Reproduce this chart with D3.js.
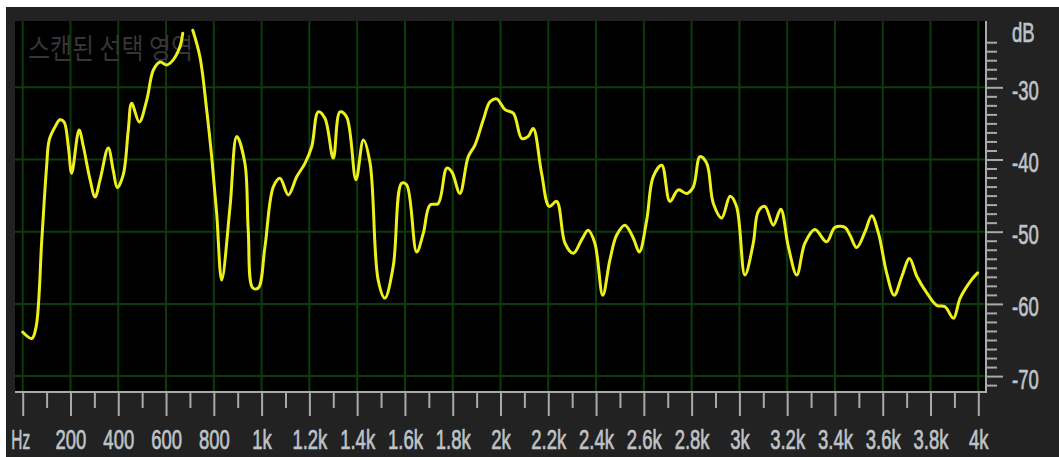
<!DOCTYPE html>
<html>
<head>
<meta charset="utf-8">
<script src="https://cdn.jsdelivr.net/npm/d3@7"></script>
<style>
html,body{margin:0;padding:0;background:#fff;}
svg{display:block;}
</style>
</head>
<body>
<svg id="chart" width="1059" height="457"></svg>
<script>
// ---- data ----
const title = "스캔된 선택 영역";
const freqs = [0,38,56,80,100,111,135,156,173,191,205,236,254,282,303,324,358,379,396,421,442,456,488,519,547,575,603,630,658,670,692,712,742,770,791,812,833,868,896,930,944,963,986,1014,1049,1077,1112,1147,1182,1210,1237,1265,1300,1328,1356,1395,1426,1454,1488,1516,1551,1586,1607,1649,1677,1705,1739,1775,1796,1830,1865,1893,1928,1956,1984,2019,2054,2089,2116,2137,2172,2204,2235,2270,2305,2340,2367,2395,2428,2458,2486,2521,2556,2581,2612,2639,2675,2709,2744,2779,2807,2835,2863,2891,2926,2961,2988,3023,3058,3079,3107,3142,3173,3205,3240,3274,3316,3365,3400,3442,3463,3491,3526,3554,3582,3617,3648,3680,3712,3743,3785,3826,3861,3896,3924,3966,3997];
// null = gap in the drawn trace
const levels = [-63.9,-64.8,-63.2,-51.1,-41.0,-37.3,-35.5,-34.5,-34.8,-38.2,-41.9,-35.9,-38.2,-42.8,-45.2,-42.8,-38.4,-41.5,-43.9,-42.1,-35.9,-32.2,-34.8,-31.8,-27.6,-26.5,-26.9,-26.2,-24.4,-22.5,null,-22.1,-25.8,-33.1,-39.6,-47.5,-56.7,-46.5,-36.8,-40.5,-49.8,-57.8,-57.8,-52.1,-43.8,-42.6,-44.9,-42.4,-40.5,-38.2,-33.4,-34.3,-39.8,-33.4,-34.1,-42.8,-37.3,-40.5,-56.7,-59.2,-54.8,-43.3,-43.5,-52.8,-50.2,-46.3,-46.1,-41.2,-41.7,-44.7,-39.6,-38.0,-34.5,-32.0,-31.6,-33.1,-33.6,-37.1,-36.8,-35.7,-41.9,-46.5,-45.8,-51.6,-53.0,-51.1,-49.8,-51.6,-58.8,-53.9,-50.5,-49.1,-50.9,-52.8,-48.4,-42.4,-40.8,-45.8,-44.2,-44.7,-43.8,-39.6,-40.5,-46.1,-48.1,-45.1,-46.5,-56.0,-51.6,-47.2,-46.5,-49.1,-46.9,-52.1,-56.0,-51.6,-49.7,-51.4,-49.4,-49.4,-50.5,-52.2,-50.0,-47.8,-50.2,-55.8,-58.8,-56.2,-53.7,-56.2,-58.5,-60.2,-60.4,-62.0,-59.2,-56.9,-55.7];
const xMajorTicks = [0,200,400,600,800,1000,1200,1400,1600,1800,2000,2200,2400,2600,2800,3000,3200,3400,3600,3800,4000];
const xTickLabels = ["Hz","200","400","600","800","1k","1.2k","1.4k","1.6k","1.8k","2k","2.2k","2.4k","2.6k","2.8k","3k","3.2k","3.4k","3.6k","3.8k","4k"];
const xMinorTicks = [100,300,500,700,900,1100,1300,1500,1700,1900,2100,2300,2500,2700,2900,3100,3300,3500,3700,3900];
const yMajorTicks = [-30,-40,-50,-60,-70];
const yTickLabels = ["-30","-40","-50","-60","-70"];
const yUnitLabel = "dB";

// ---- layout ----
const svg = d3.select("#chart");
const plot = {left:15, top:21, right:986, bottom:392};
const x = d3.scaleLinear().domain([0,4000]).range([22.7,978.3]);
const y = d3.scaleLinear().domain([-70,-30]).range([376.1,87.3]);

svg.append("rect").attr("x",6).attr("y",7).attr("width",1053).attr("height",450).attr("fill","#222222");
svg.append("rect").attr("x",plot.left).attr("y",plot.top)
  .attr("width",plot.right-plot.left).attr("height",plot.bottom-plot.top).attr("fill","#000");

svg.append("defs").append("clipPath").attr("id","clip")
  .append("rect").attr("x",plot.left).attr("y",plot.top)
  .attr("width",plot.right-plot.left).attr("height",plot.bottom-plot.top);

// grid
const grid = svg.append("g").attr("stroke","#0c3c0c").attr("stroke-width",2);
grid.selectAll(".v").data(xMajorTicks).join("line")
  .attr("x1",d=>x(d)).attr("x2",d=>x(d)).attr("y1",plot.top).attr("y2",plot.bottom);
grid.selectAll(".h").data(yMajorTicks).join("line")
  .attr("x1",plot.left).attr("x2",plot.right).attr("y1",d=>y(d)).attr("y2",d=>y(d));

// title
svg.append("text").text(title)
  .attr("x",28).attr("y",59)
  .attr("font-family","'Noto Sans CJK KR', sans-serif")
  .attr("font-size",28).attr("fill","#363636")
  .attr("textLength",165).attr("lengthAdjust","spacingAndGlyphs");

// line
const pts = freqs.map((f,i)=>[f,levels[i]]);
svg.append("path").datum(pts)
  .attr("clip-path","url(#clip)")
  .attr("fill","none").attr("stroke","#eef01a").attr("stroke-width",3)
  .attr("stroke-linejoin","round").attr("stroke-linecap","round")
  .attr("d", d3.line().defined(d=>d[1]!==null)
    .x(d=>x(d[0])).y(d=>y(d[1])).curve(d3.curveCatmullRom.alpha(0.5)));

// frame
const frameColor = "#a9a9a9";
svg.append("line").attr("x1",plot.left).attr("x2",plot.right+1).attr("y1",plot.bottom).attr("y2",plot.bottom)
  .attr("stroke",frameColor).attr("stroke-width",2);
svg.append("line").attr("x1",plot.right).attr("x2",plot.right).attr("y1",plot.top).attr("y2",plot.bottom+1)
  .attr("stroke",frameColor).attr("stroke-width",2);

const fontFam = "'Liberation Sans', Arial, sans-serif";
const labelColor = "#bfc3c8";

function styleLabel(sel){
  sel.attr("font-family",fontFam).attr("font-size",28).attr("fill",labelColor)
     .attr("stroke",labelColor).attr("stroke-width",0.7);
}

// bottom axis
const xMinorAxis = d3.axisBottom(x).tickValues(xMinorTicks).tickSize(15).tickFormat("");
const gxm = svg.append("g").attr("transform",`translate(0,${plot.bottom+1})`).call(xMinorAxis);
const xAxis = d3.axisBottom(x).tickValues(xMajorTicks).tickSize(23)
  .tickFormat((d,i)=>xTickLabels[i]);
const gx = svg.append("g").attr("transform",`translate(0,${plot.bottom+1})`).call(xAxis);
[gx,gxm].forEach(g=>{
  g.select(".domain").remove();
  g.selectAll(".tick line").attr("stroke",frameColor).attr("stroke-width",2);
});
gx.selectAll(".tick text")
  .attr("y",0).attr("dy",null)
  .attr("transform",(d)=>`translate(${d===0?-2.5:0},55.5) scale(${d===0?0.55:0.66},1)`)
  .call(styleLabel);

// right axis
const yMinor = d3.range(-23.75,-71.3,-1.25).filter(v=>Math.abs(v/10-Math.round(v/10))>1e-6);
const yMinorAxis = d3.axisRight(y).tickValues(yMinor).tickSize(11).tickFormat("");
const gym = svg.append("g").attr("transform",`translate(${plot.right},0)`).call(yMinorAxis);
const yAxis = d3.axisRight(y).tickValues(yMajorTicks).tickSize(17).tickFormat((d,i)=>yTickLabels[i]);
const gy = svg.append("g").attr("transform",`translate(${plot.right},0)`).call(yAxis);
[gy,gym].forEach(g=>{
  g.select(".domain").remove();
  g.selectAll(".tick line").attr("stroke",frameColor).attr("stroke-width",2);
});
gy.selectAll(".tick text")
  .attr("x",0).attr("dy",null).attr("text-anchor","start")
  .attr("transform","translate(26,12) scale(0.66,1)")
  .call(styleLabel);

svg.append("text").text(yUnitLabel)
  .attr("transform",`translate(${plot.right+26},41.5) scale(0.66,1)`)
  .call(styleLabel);
</script>
</body>
</html>
